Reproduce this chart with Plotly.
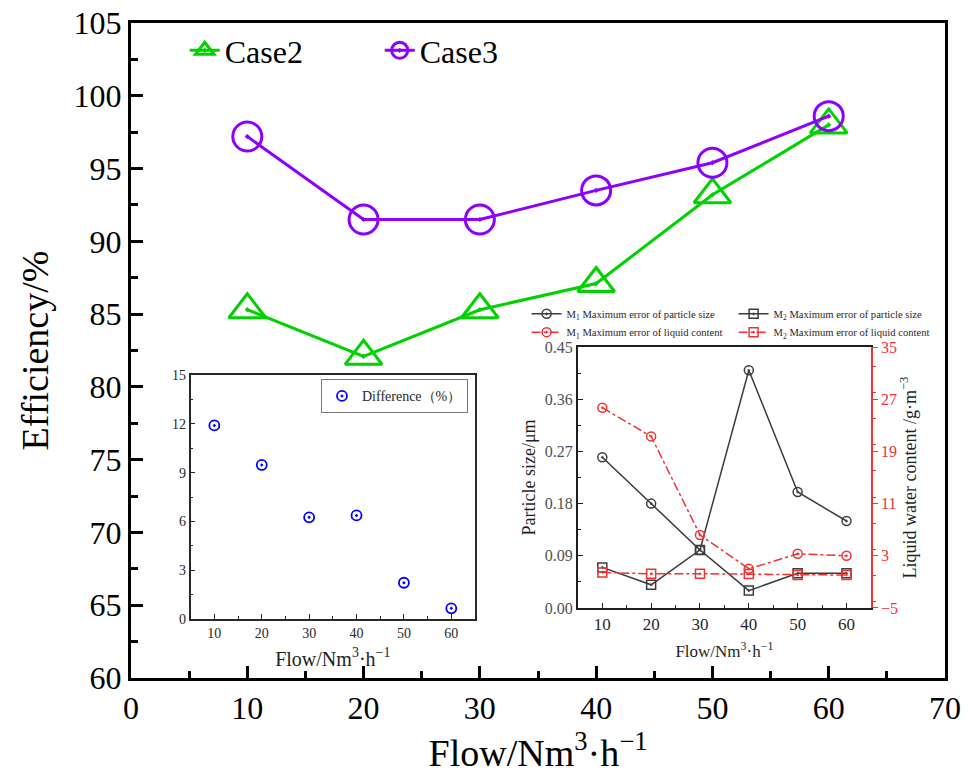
import plotly.graph_objects as go

# ---- data ----
flow = [10, 20, 30, 40, 50, 60]
case2 = [85.3, 82.1, 85.3, 87.1, 93.2, 98.0]
case3 = [97.2, 91.5, 91.5, 93.5, 95.4, 98.6]
difference = [11.9, 9.47, 6.25, 6.37, 2.23, 0.66]
m1_size = [0.26, 0.18, 0.10, 0.41, 0.20, 0.15]
m2_size = [0.07, 0.04, 0.10, 0.03, 0.06, 0.06]
m1_liquid = [25.7, 21.3, 6.2, 1.0, 3.3, 3.0]
m2_liquid = [0.45, 0.25, 0.25, 0.2, 0.05, 0.05]

SERIF = "Liberation Serif"
GREEN = "rgb(0,210,0)"
PURPLE = "rgb(140,0,255)"
BLUE = "rgb(0,0,255)"
DARK = "rgb(60,60,60)"
RED = "rgb(240,50,50)"
flow_title = "Flow/Nm<sup>3</sup>·h<sup>−1</sup>"

fig = go.Figure()

# main chart
fig.add_trace(go.Scatter(x=flow, y=case2, name="Case2", mode="lines+markers",
                         line=dict(color=GREEN, width=3),
                         marker=dict(symbol="triangle-up-open-dot", size=32, color=GREEN,
                                     line=dict(width=3, color=GREEN)),
                         xaxis="x", yaxis="y", legend="legend"))
fig.add_trace(go.Scatter(x=flow, y=case3, name="Case3", mode="lines+markers",
                         line=dict(color=PURPLE, width=3),
                         marker=dict(symbol="circle-open-dot", size=29, color=PURPLE,
                                     line=dict(width=3, color=PURPLE)),
                         xaxis="x", yaxis="y", legend="legend"))

# inset 1
fig.add_trace(go.Scatter(x=flow, y=difference, name="Difference（%）", mode="markers",
                         marker=dict(symbol="circle-open-dot", size=10, color=BLUE,
                                     line=dict(width=1.8, color=BLUE)),
                         xaxis="x2", yaxis="y2", legend="legend2"))

# inset 2
fig.add_trace(go.Scatter(x=flow, y=m1_size, name="M<sub>1</sub> Maximum error of particle size",
                         mode="lines+markers", line=dict(color=DARK, width=1.5),
                         marker=dict(symbol="circle-open-dot", size=9, color=DARK,
                                     line=dict(width=1.5, color=DARK)),
                         xaxis="x3", yaxis="y3", legend="legend3"))
fig.add_trace(go.Scatter(x=flow, y=m2_size, name="M<sub>2</sub> Maximum error of particle size",
                         mode="lines+markers", line=dict(color=DARK, width=1.5),
                         marker=dict(symbol="square-open-dot", size=9, color=DARK,
                                     line=dict(width=1.5, color=DARK)),
                         xaxis="x3", yaxis="y3", legend="legend3"))
fig.add_trace(go.Scatter(x=flow, y=m1_liquid, name="M<sub>1</sub> Maximum error of liquid content",
                         mode="lines+markers", line=dict(color=RED, width=1.5, dash="dashdot"),
                         marker=dict(symbol="circle-open-dot", size=9, color=RED,
                                     line=dict(width=1.5, color=RED)),
                         xaxis="x3", yaxis="y4", legend="legend4"))
fig.add_trace(go.Scatter(x=flow, y=m2_liquid, name="M<sub>2</sub> Maximum error of liquid content",
                         mode="lines+markers", line=dict(color=RED, width=1.5, dash="dashdot"),
                         marker=dict(symbol="square-open-dot", size=9, color=RED,
                                     line=dict(width=1.5, color=RED)),
                         xaxis="x3", yaxis="y4", legend="legend4"))

main_ax = dict(showline=True, linewidth=3, linecolor="black", mirror=True,
               ticks="inside", ticklen=12, tickwidth=3, tickcolor="black",
               showgrid=False, zeroline=False, automargin=False,
               tickfont=dict(family=SERIF, size=32, color="black"))
fig.update_layout(
    xaxis=dict(main_ax, range=[0, 70], dtick=10, domain=[0, 1],
               minor=dict(dtick=5, ticks="inside", ticklen=7, tickwidth=3, tickcolor="black"),
               title=dict(text=flow_title, font=dict(family=SERIF, size=38, color="black"), standoff=22)),
    yaxis=dict(main_ax, range=[60, 105], dtick=5, domain=[0, 1],
               minor=dict(dtick=2.5, ticks="inside", ticklen=7, tickwidth=3, tickcolor="black"),
               title=dict(text="Efficiency/%", font=dict(family=SERIF, size=38, color="black"), standoff=14)),
)

in1 = dict(showline=True, linewidth=1.5, linecolor="rgb(40,40,40)", mirror=True,
           ticks="inside", ticklen=5, tickwidth=1.2, tickcolor="rgb(40,40,40)",
           showgrid=False, zeroline=False, automargin=False,
           tickfont=dict(family=SERIF, size=14, color="rgb(40,40,40)"))
fig.update_layout(
    xaxis2=dict(in1, range=[5, 65], dtick=10, domain=[0.0733, 0.4226], anchor="y2",
                minor=dict(dtick=5, ticks="inside", ticklen=3, tickcolor="rgb(40,40,40)"),
                title=dict(text=flow_title, font=dict(family=SERIF, size=20, color="rgb(30,30,30)"), standoff=12)),
    yaxis2=dict(in1, range=[0, 15], dtick=3, domain=[0.090, 0.4626], anchor="x2",
                minor=dict(dtick=1.5, ticks="inside", ticklen=3, tickcolor="rgb(40,40,40)")),
)

in2 = dict(showline=True, linewidth=1.8, linecolor="rgb(30,30,30)",
           ticks="inside", ticklen=5, tickwidth=1.2, tickcolor="rgb(30,30,30)",
           showgrid=False, zeroline=False, automargin=False,
           tickfont=dict(family=SERIF, size=16, color="rgb(80,80,80)"))
fig.update_layout(
    xaxis3=dict(in2, range=[5, 65], dtick=10, domain=[0.549, 0.909], anchor="y3", mirror=True,
                minor=dict(dtick=5, ticks="inside", ticklen=3, tickcolor="rgb(30,30,30)"),
                tickfont=dict(family=SERIF, size=17, color="rgb(40,40,40)"),
                title=dict(text=flow_title, font=dict(family=SERIF, size=17, color="rgb(30,30,30)"), standoff=12)),
    yaxis3=dict(in2, range=[0, 0.45], dtick=0.09, tickformat=".2f", domain=[0.1069, 0.5053], anchor="x3",
                minor=dict(dtick=0.045, ticks="inside", ticklen=3, tickcolor="rgb(30,30,30)"),
                title=dict(text="Particle size/μm", font=dict(family=SERIF, size=18, color="rgb(30,30,30)"), standoff=4)),
    yaxis4=dict(showline=True, linewidth=1.8, linecolor=RED, overlaying="y3", side="right", anchor="x3",
                range=[-5, 35], dtick=8, tick0=-5, ticks="outside", ticklen=5, tickwidth=1.2, tickcolor=RED,
                showgrid=False, zeroline=False, automargin=False,
                minor=dict(dtick=4, ticks="outside", ticklen=3, tickcolor=RED),
                tickfont=dict(family=SERIF, size=16, color=RED),
                title=dict(text="Liquid water content /g·m<sup>−3</sup>", font=dict(family=SERIF, size=18, color="rgb(30,30,30)"), standoff=6)),
)

fig.update_layout(
    width=968, height=774,
    margin=dict(l=131, r=23, t=23, b=96, autoexpand=False),
    paper_bgcolor="white", plot_bgcolor="white",
    showlegend=True,
    legend=dict(x=0.066, y=1.0, xanchor="left", yanchor="top", orientation="h",
                font=dict(family=SERIF, size=32, color="black"), bgcolor="rgba(0,0,0,0)",
                itemsizing="trace", entrywidth=150, entrywidthmode="pixels"),
    legend2=dict(x=0.414, y=0.456, xanchor="right", yanchor="top", orientation="h",
                 font=dict(family=SERIF, size=14, color="rgb(40,40,40)"),
                 bgcolor="white", bordercolor="rgb(120,120,120)", borderwidth=1),
    legend3=dict(x=0.486, y=0.556, xanchor="left", yanchor="middle", orientation="h",
                 font=dict(family=SERIF, size=10.6, color="rgb(40,40,40)"), bgcolor="rgba(0,0,0,0)",
                 entrywidth=162, entrywidthmode="pixels"),
    legend4=dict(x=0.486, y=0.528, xanchor="left", yanchor="middle", orientation="h",
                 font=dict(family=SERIF, size=10.6, color="rgb(40,40,40)"), bgcolor="rgba(0,0,0,0)",
                 entrywidth=162, entrywidthmode="pixels"),
)

fig.write_html("out.html")
